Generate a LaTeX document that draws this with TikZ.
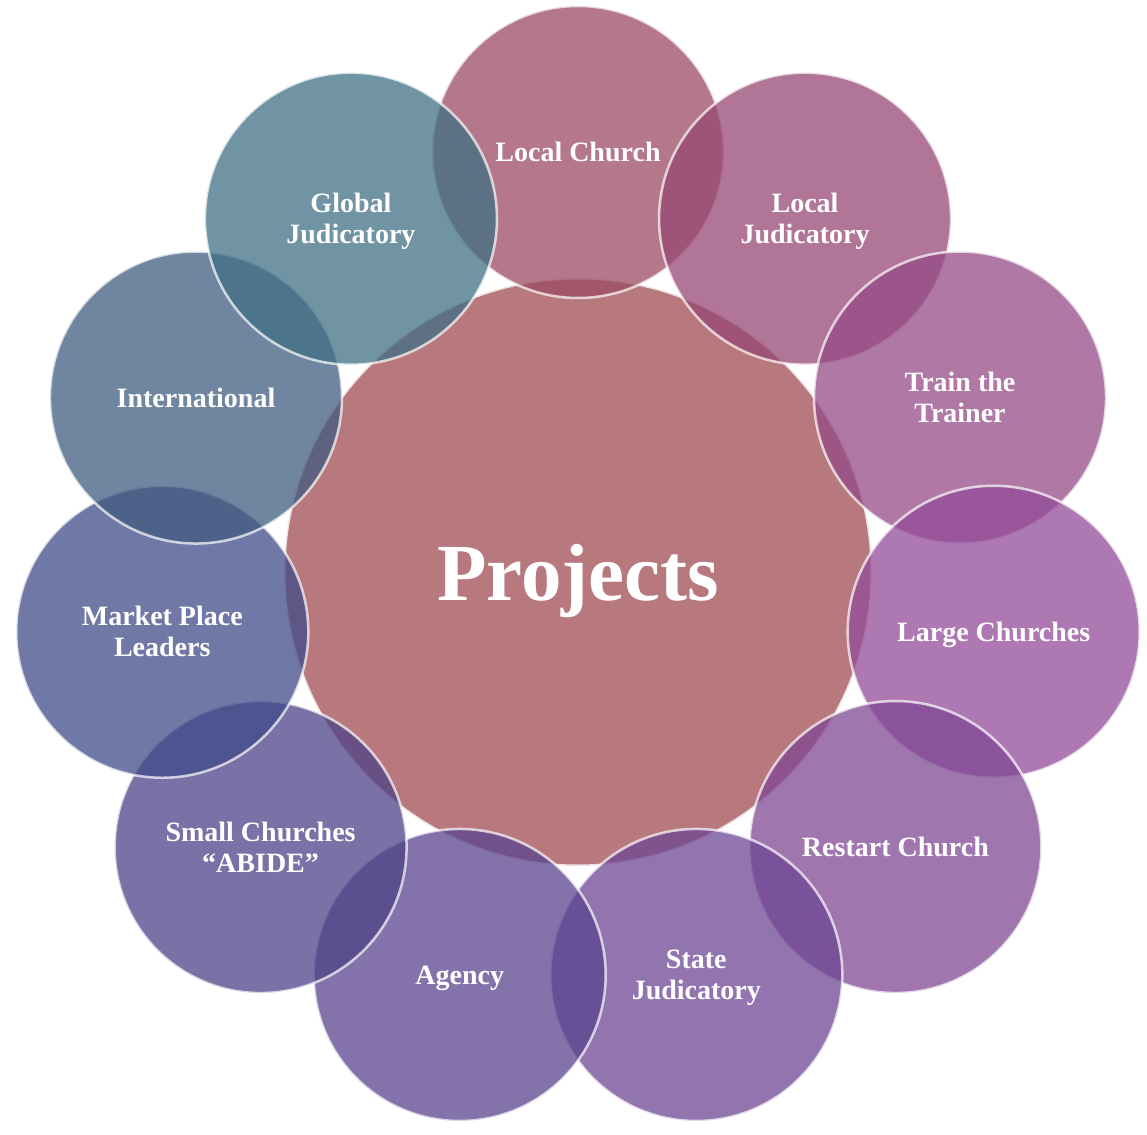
\documentclass[tikz,border=0pt]{standalone}
\usepackage{fontspec}
\setmainfont{Liberation Serif}
\usepackage{tikz}
\definecolor{hubfill}{RGB}{159,76,83}
\definecolor{ringA}{RGB}{156,75,99}
\definecolor{ringB}{RGB}{150,71,116}
\definecolor{ringC}{RGB}{148,75,135}
\definecolor{ringD}{RGB}{147,75,152}
\definecolor{ringE}{RGB}{128,72,148}
\definecolor{ringF}{RGB}{110,70,147}
\definecolor{ringG}{RGB}{90,68,142}
\definecolor{ringH}{RGB}{78,67,136}
\definecolor{ringI}{RGB}{64,75,135}
\definecolor{ringJ}{RGB}{64,92,128}
\definecolor{ringK}{RGB}{64,112,132}

\begin{document}
\begin{tikzpicture}[x=1pt,y=1pt,
    hub/.style={circle,minimum size=588pt,inner sep=0pt,fill=hubfill,fill opacity=0.75,
      draw=white,draw opacity=0.8,line width=3pt,text opacity=1,text=white,text depth=0pt,
      font=\bfseries\fontsize{81}{90}\selectfont},
    petal/.style={circle,minimum size=292pt,inner sep=0pt,fill opacity=0.75,
      draw=white,draw opacity=0.7,line width=2.5pt,text opacity=1,text=white,text depth=0pt,
      align=center,font=\bfseries\fontsize{28}{31}\selectfont}]
  \useasboundingbox (-578,-562) rectangle (569,572);
  % centre
  \node[hub] (hub) at (0,0) {Projects};
  % ring of eleven
  \foreach \name/\col/\txt [count=\i from 0] in {
      localchurch/ringA/{Local Church},
      localjud/ringB/{Local\\Judicatory},
      trainer/ringC/{Train the\\Trainer},
      large/ringD/{Large Churches},
      restart/ringE/{Restart Church},
      statejud/ringF/{State\\Judicatory},
      agency/ringG/{Agency},
      small/ringH/{Small Churches\\“ABIDE”},
      market/ringI/{Market Place\\Leaders},
      intl/ringJ/{International},
      globaljud/ringK/{Global\\Judicatory}}
    \node[petal,fill=\col] (\name) at ({90-\i*360/11}:420) {\txt};
\end{tikzpicture}
\end{document}
